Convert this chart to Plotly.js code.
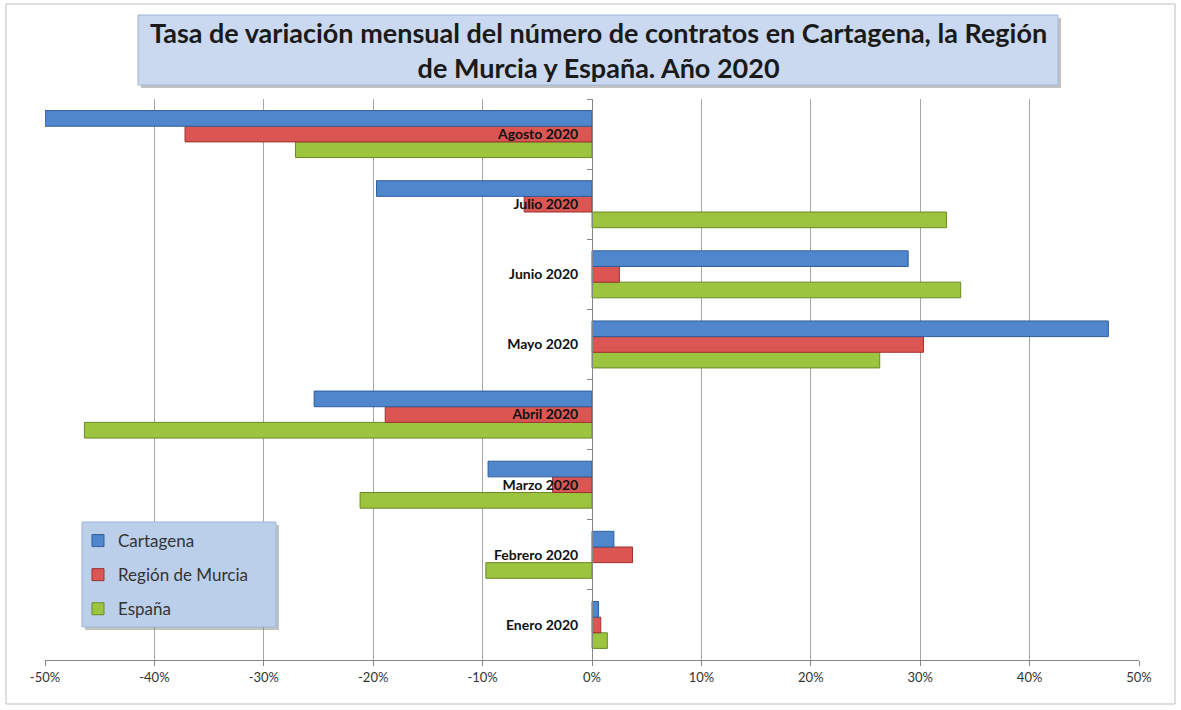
<!DOCTYPE html>
<html>
<head>
<meta charset="utf-8">
<script src="https://cdn.plot.ly/plotly-3.0.1.min.js"></script>
<style>html,body{margin:0;padding:0;background:#fff;}#chart{width:1181px;height:710px;}</style>
</head>
<body>
<div id="chart"></div>
<script>
const months = ['Enero 2020','Febrero 2020','Marzo 2020','Abril 2020','Mayo 2020','Junio 2020','Julio 2020','Agosto 2020'];
const cartagena = [0.6, 2.0, -9.5, -25.4, 47.2, 28.9, -19.7, -50.0];
const murcia = [0.8, 3.7, -3.6, -18.9, 30.3, 2.5, -6.2, -37.2];
const espana = [1.4, -9.7, -21.2, -46.4, 26.3, 33.7, 32.4, -27.1];
const seriesNames = ['Cartagena','Región de Murcia','España'];
const tickVals = [-50,-40,-30,-20,-10,0,10,20,30,40,50];
const tickText = ['-50%','-40%','-30%','-20%','-10%','0%','10%','20%','30%','40%','50%'];
const titleText = 'Tasa de variación mensual del número de contratos en Cartagena, la Región<br>de Murcia y España. Año 2020';

const seriesData = [cartagena, murcia, espana];
const fills = ['#4f86cc','#db5652','#9cc43e'];
const lines = ['#2f5f9c','#9c3330','#6b8a25'];
const font = 'Lato, "Liberation Sans", sans-serif';

const traces = [];
for (let i = 2; i >= 0; i--) {
  traces.push({
    type: 'bar', orientation: 'h',
    y: months, x: seriesData[i], name: seriesNames[i],
    legendgroup: 'g' + i, legendrank: i + 1,
    marker: {color: fills[i], line: {color: lines[i], width: 1}},
    hoverinfo: 'x+y+name'
  });
}

const L = 45, R = 1139, T = 99, B = 660;
const W = R - L, H = B - T;
const px = v => (v - L) / W;
const py = v => (B - v) / H;

const layout = {
  width: 1181, height: 710,
  margin: {l: L, r: 1181 - R, t: T, b: 710 - B},
  paper_bgcolor: '#ffffff', plot_bgcolor: '#ffffff',
  barmode: 'group', bargap: 0.33, bargroupgap: 0,
  font: {family: font, color: '#222'},
  showlegend: true,
  legend: {
    x: px(78), y: py(523), xanchor: 'left', yanchor: 'top',
    bgcolor: 'rgba(0,0,0,0)', borderwidth: 0,
    traceorder: 'grouped', tracegroupgap: 9,
    font: {family: font, size: 17, color: '#333'},
    itemwidth: 30
  },
  xaxis: {
    range: [-50, 50], tickvals: tickVals, ticktext: tickText,
    showgrid: true, gridcolor: '#a6a6a6', gridwidth: 1,
    zeroline: false, showline: true, linecolor: '#868686',
    ticks: 'outside', ticklen: 5, tickcolor: '#868686',
    tickfont: {family: font, size: 13, color: '#333'},
    fixedrange: true
  },
  yaxis: {
    type: 'category', categoryorder: 'array', categoryarray: months,
    anchor: 'free', position: px(592),
    showline: true, linecolor: '#868686',
    ticks: 'outside', tickson: 'boundaries', ticklen: 5, tickcolor: '#868686',
    showgrid: false, zeroline: false,
    tickfont: {family: font, size: 14, color: '#111', weight: 'bold'},
    ticklabelstandoff: 11,
    layer: 'above traces',
    fixedrange: true
  },
  shapes: [
    {type: 'rect', xref: 'paper', yref: 'paper', x0: px(6), x1: px(1175), y0: py(704), y1: py(4),
     line: {color: '#bfbfbf', width: 1}, fillcolor: 'rgba(0,0,0,0)', layer: 'below'},
    {type: 'rect', xref: 'paper', yref: 'paper', x0: px(141), x1: px(1061), y0: py(88), y1: py(18),
     line: {width: 0}, fillcolor: 'rgba(120,120,120,0.45)', layer: 'above'},
    {type: 'rect', xref: 'paper', yref: 'paper', x0: px(138), x1: px(1058), y0: py(85), y1: py(15),
     line: {color: '#9fb6d6', width: 1}, fillcolor: '#cad9ef', layer: 'above'},
    {type: 'rect', xref: 'paper', yref: 'paper', x0: px(85), x1: px(279), y0: py(630), y1: py(525),
     line: {width: 0}, fillcolor: 'rgba(120,120,120,0.45)', layer: 'above'},
    {type: 'rect', xref: 'paper', yref: 'paper', x0: px(82), x1: px(276), y0: py(627), y1: py(522),
     line: {color: '#9fb6d6', width: 1}, fillcolor: '#bccfea', layer: 'above'}
  ],
  annotations: [
    {xref: 'paper', yref: 'paper', x: px(598), y: py(50), xanchor: 'center', yanchor: 'middle',
     text: titleText, showarrow: false, align: 'center',
     font: {family: font, size: 27, color: '#1a1a1a', weight: 'bold'}}
  ]
};

Plotly.newPlot('chart', traces, layout, {displayModeBar: false, staticPlot: false});
</script>
</body>
</html>
